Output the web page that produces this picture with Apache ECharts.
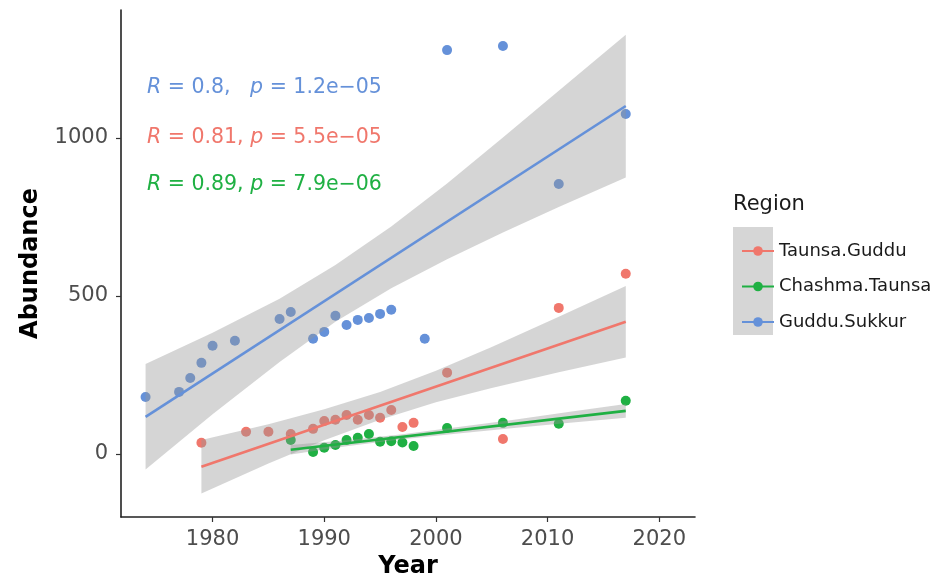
<!DOCTYPE html>
<html>
<head>
<meta charset="utf-8">
<script src="https://cdn.jsdelivr.net/npm/echarts@6/dist/echarts.min.js"></script>
<style>
  html, body { margin: 0; padding: 0; background: #fff; }
  #main { width: 943px; height: 578px; }
</style>
</head>
<body>
<div id="main"></div>
<script type="text/javascript">
// points
var redYears = [1979, 1983, 1985, 1987, 1989, 1990, 1991, 1992, 1993, 1994, 1995, 1996, 1997, 1998, 2001, 2006, 2011, 2017];
var redVals = [35, 70, 70, 63, 79, 104, 108, 123, 108, 123, 114, 139, 85, 98, 257, 47, 462, 570];

var greenYears = [1987, 1989, 1990, 1991, 1992, 1993, 1994, 1995, 1996, 1997, 1998, 2001, 2006, 2011, 2017];
var greenVals = [44, 6, 19, 28, 44, 51, 63, 38, 40, 36, 25, 82, 98, 95, 168];

var blueYears = [1974, 1977, 1978, 1979, 1980, 1982, 1986, 1987, 1989, 1990, 1991, 1992, 1993, 1994, 1995, 1996, 1999, 2001, 2006, 2011, 2017];
var blueVals = [180, 196, 240, 288, 342, 358, 427, 449, 364, 386, 437, 408, 424, 430, 443, 456, 364, 1278, 1291, 854, 1076];

// fitted lines (ends)
var redFitYears = [1979, 2017];
var redFitVals = [-41, 418];
var greenFitYears = [1987, 2017];
var greenFitVals = [13, 136];
var blueFitYears = [1974, 2017];
var blueFitVals = [117, 1101];

// confidence bands
var redBandYears = [1979, 1985, 1990, 1995, 2000, 2005, 2011, 2017];
var redBandLo = [-126, -31, 43, 108, 163, 208, 258, 305];
var redBandHi = [44, 94, 141, 196, 263, 338, 434, 531];

var greenBandYears = [1987, 1992, 1997, 2002, 2007, 2012, 2017];
var greenBandLo = [-2, 24, 46, 64, 82, 98, 114];
var greenBandHi = [28, 43, 62, 85, 108, 133, 158];

var blueBandYears = [1974, 1980, 1986, 1991, 1996, 2001, 2006, 2011, 2017];
var blueBandLo = [-50, 125, 291, 418, 524, 616, 701, 781, 875];
var blueBandHi = [284, 383, 491, 598, 720, 856, 1001, 1149, 1327];

var xTicks = [1980, 1990, 2000, 2010, 2020];
var yTicks = [0, 500, 1000];

var regions = ['Taunsa.Guddu', 'Chashma.Taunsa', 'Guddu.Sukkur'];
var RED = '#F0776C', GREEN = '#1FB043', BLUE = '#6591D9';
var FONT = 'DejaVu Sans';

function pairs(xs, ys) {
	var out = [];
	for (var i = 0; i < xs.length; i++) out.push([xs[i], ys[i]]);
	return out;
}

function band(name, years, lo, hi) {
	return {
		name: name + ' band',
		type: 'custom',
		z: 3,
		silent: true,
		data: [[years[0], lo[0]]],
		encode: { x: 0, y: 1 },
		renderItem: function (params, api) {
			var pts = [];
			for (var i = 0; i < years.length; i++) pts.push(api.coord([years[i], hi[i]]));
			for (var j = years.length - 1; j >= 0; j--) pts.push(api.coord([years[j], lo[j]]));
			return {
				type: 'polygon',
				shape: { points: pts },
				style: { fill: 'rgba(150,150,150,0.4)' }
			};
		}
	};
}

function points(name, xs, ys, color) {
	return {
		name: name + ' pts',
		type: 'scatter',
		z: 2,
		symbolSize: 10,
		itemStyle: { color: color, opacity: 1 },
		data: pairs(xs, ys)
	};
}

function fit(name, xs, ys, color) {
	return {
		name: name,
		type: 'line',
		z: 4,
		symbol: 'circle',
		symbolSize: 9,
		showSymbol: false,
		itemStyle: { color: color },
		lineStyle: { color: color, width: 2.6 },
		data: pairs(xs, ys)
	};
}

function note(top, r, gap, p, color) {
	return {
		type: 'text', left: 147, top: top,
		style: {
			text: '{i|R} = ' + r + ',' + gap + '{i|p} = ' + p,
			fontSize: 20.5, fill: color, fontFamily: FONT,
			rich: { i: { fontStyle: 'italic', fontSize: 20.5, fill: color, fontFamily: FONT } }
		}
	};
}

var chart = echarts.init(document.getElementById('main'));
chart.setOption({
	animation: false,
	backgroundColor: '#fff',
	textStyle: { fontFamily: FONT },
	grid: { left: 121, top: 10, right: 248, bottom: 61, containLabel: false, outerBoundsMode: 'none' },
	xAxis: {
		type: 'value',
		min: 1971.8,
		max: 2023.2,
		name: 'Year',
		nameLocation: 'middle',
		nameGap: 37,
		nameTextStyle: { fontSize: 24, fontWeight: 'bold', color: '#000', fontFamily: FONT },
		splitLine: { show: false },
		axisLine: { onZero: false, lineStyle: { color: '#222', width: 1.6 } },
		axisTick: { show: true, length: 5, customValues: xTicks, lineStyle: { color: '#333', width: 1.2 } },
		axisLabel: { customValues: xTicks, fontSize: 21, color: '#4d4d4d', margin: 12, fontFamily: FONT,
			formatter: function (v) { return String(v); } }
	},
	yAxis: {
		type: 'value',
		min: -200,
		max: 1405,
		name: 'Abundance',
		nameLocation: 'middle',
		nameRotate: 90,
		nameGap: 78,
		nameTextStyle: { fontSize: 24, fontWeight: 'bold', color: '#000', fontFamily: FONT },
		splitLine: { show: false },
		axisLine: { show: true, onZero: false, lineStyle: { color: '#222', width: 1.6 } },
		axisTick: { show: true, length: 5, customValues: yTicks, lineStyle: { color: '#333', width: 1.2 } },
		axisLabel: { customValues: yTicks, fontSize: 21, color: '#4d4d4d', margin: 13, fontFamily: FONT,
			formatter: function (v) { return String(v); } }
	},
	legend: {
		orient: 'vertical',
		left: 736,
		top: 237,
		itemWidth: 32,
		itemHeight: 12,
		itemGap: 17.5,
		z: 5,
		data: regions,
		textStyle: { fontSize: 18, lineHeight: 18, color: '#1a1a1a', fontFamily: FONT }
	},
	graphic: [
		{ type: 'rect', left: 733, top: 227, z: 0, shape: { width: 40, height: 108 }, style: { fill: '#d6d6d6' } },
		{ type: 'text', left: 733, top: 194, style: { text: 'Region', fontSize: 21, fill: '#1a1a1a', fontFamily: FONT } },
		note(77, '0.8', '   ', '1.2e\u221205', BLUE),
		note(127, '0.81', ' ', '5.5e\u221205', RED),
		note(174, '0.89', ' ', '7.9e\u221206', GREEN)
	],
	series: [
		points('Taunsa.Guddu', redYears, redVals, RED),
		points('Chashma.Taunsa', greenYears, greenVals, GREEN),
		points('Guddu.Sukkur', blueYears, blueVals, BLUE),
		band('Taunsa.Guddu', redBandYears, redBandLo, redBandHi),
		band('Chashma.Taunsa', greenBandYears, greenBandLo, greenBandHi),
		band('Guddu.Sukkur', blueBandYears, blueBandLo, blueBandHi),
		fit('Taunsa.Guddu', redFitYears, redFitVals, RED),
		fit('Chashma.Taunsa', greenFitYears, greenFitVals, GREEN),
		fit('Guddu.Sukkur', blueFitYears, blueFitVals, BLUE)
	]
});
</script>
</body>
</html>
